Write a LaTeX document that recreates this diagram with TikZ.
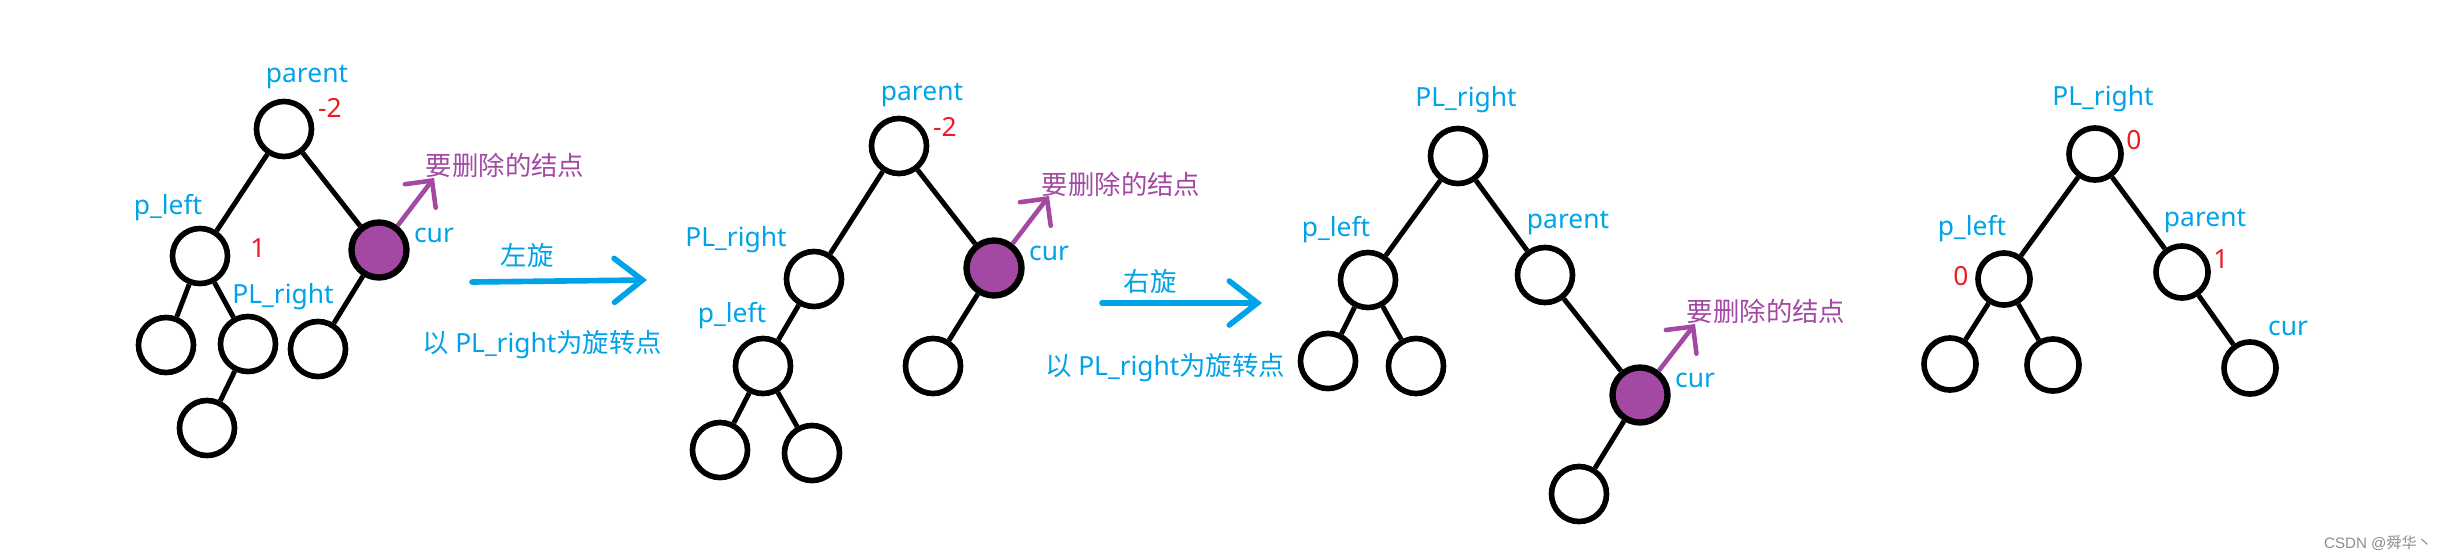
\documentclass[tikz,border=0pt]{standalone}
\usepackage{fontspec}
\setmainfont{Noto Sans}
\newfontfamily\cjk{Noto Sans CJK SC}
\newfontfamily\wmfont{Liberation Sans}
\usetikzlibrary{arrows.meta}
\definecolor{lblue}{RGB}{0,162,232}
\definecolor{pred}{RGB}{237,28,36}
\definecolor{ppurple}{RGB}{163,73,164}
\begin{document}
\begin{tikzpicture}[x=0.01cm,y=-0.01cm,
  tn/.style={circle, draw=black, line width=1.6pt, minimum size=0.55cm, inner sep=0pt},
  tns/.style={tn, minimum size=0.52cm},
  del/.style={tn, fill=ppurple, line width=1.8pt},
  edge/.style={draw=black, line width=1.4pt},
  lbl/.style={text=lblue, inner sep=0pt, font=\fontsize{7.5pt}{9pt}\selectfont},
  num/.style={text=pred, inner sep=0pt, font=\fontsize{7.5pt}{9pt}\selectfont},
  dlbl/.style={text=ppurple, inner sep=0pt, font=\fontsize{7.5pt}{9pt}\selectfont\cjk},
  parrow/.style={draw=ppurple, line width=1.3pt, -{Straight Barb[length=5.5pt,width=11pt,line cap=round]}},
  barrow/.style={draw=lblue, line width=1.6pt, line cap=round, -{Straight Barb[length=8pt,width=12.5pt,line cap=round]}}
]
\useasboundingbox (0,0) rectangle (2443,557);

% ---------- Tree 1 ----------
\node[tn]  (t1p)   at (284,129) {};
\node[tn]  (t1l)   at (200,256) {};
\node[del] (t1c)   at (379,250) {};
\node[tn]  (t1ll)  at (166,345) {};
\node[tn]  (t1lr)  at (248,344) {};
\node[tn]  (t1cl)  at (318,349) {};
\node[tn]  (t1lrl) at (207,428) {};
\draw[edge] (t1p) -- (t1l);
\draw[edge] (t1p) -- (t1c);
\draw[edge] (t1l) -- (t1ll);
\draw[edge] (t1l) -- (t1lr);
\draw[edge] (t1lr) -- (t1lrl);
\draw[edge] (t1c) -- (t1cl);
\node[lbl] (t1pt)  at (307,77)  {parent};
\node[num] (t1pn)  at (330,108) {-2};
\node[lbl] (t1lt)  at (168,208) {p\_left};
\node[num] (t1ln)  at (258,248) {1};
\node[lbl] (t1ct)  at (434,235) {cur};
\node[lbl] (t1rt)  at (283,297) {PL\_right};
\coordinate (t1tip) at (434,178);
\draw[parrow] (t1c) -- (t1tip);
\node[dlbl] (t1dt) at (505,165) {要删除的结点};

% ---------- Arrow 1 ----------
\coordinate (a1s) at (472,282);
\coordinate (a1e) at (647,280);
\draw[barrow] (a1s) -- (a1e);
\node[lbl] (a1t) at (527,255) {\cjk 左旋};
\node[lbl] (a1b) at (542,345) {{\cjk 以} PL\_right{\cjk 为旋转点}};

% ---------- Tree 2 ----------
\node[tn]  (t2p)   at (899,146) {};
\node[tn]  (t2r)   at (814,279) {};
\node[tn]  (t2l)   at (763,366) {};
\node[tn]  (t2ll)  at (720,450) {};
\node[tn]  (t2lr)  at (812,453) {};
\node[del] (t2c)   at (994,268) {};
\node[tn]  (t2cl)  at (933,366) {};
\draw[edge] (t2p) -- (t2r);
\draw[edge] (t2r) -- (t2l);
\draw[edge] (t2l) -- (t2ll);
\draw[edge] (t2l) -- (t2lr);
\draw[edge] (t2p) -- (t2c);
\draw[edge] (t2c) -- (t2cl);
\node[lbl] (t2pt) at (922,95)  {parent};
\node[num] (t2pn) at (945,127) {-2};
\node[lbl] (t2rt) at (736,240) {PL\_right};
\node[lbl] (t2lt) at (732,316) {p\_left};
\node[lbl] (t2ct) at (1049,253) {cur};
\coordinate (t2tip) at (1049,196);
\draw[parrow] (t2c) -- (t2tip);
\node[dlbl] (t2dt) at (1121,184) {要删除的结点};

% ---------- Arrow 2 ----------
\coordinate (a2s) at (1102,303);
\coordinate (a2e) at (1262,303);
\draw[barrow] (a2s) -- (a2e);
\node[lbl] (a2t) at (1150,281) {\cjk 右旋};
\node[lbl] (a2b) at (1165,368) {{\cjk 以} PL\_right{\cjk 为旋转点}};

% ---------- Tree 3 ----------
\node[tn]  (t3r)   at (1458,156) {};
\node[tn]  (t3l)   at (1368,280) {};
\node[tn]  (t3ll)  at (1328,361) {};
\node[tn]  (t3lr)  at (1416,366) {};
\node[tn]  (t3p)   at (1545,275) {};
\node[del] (t3c)   at (1640,395) {};
\node[tn]  (t3cl)  at (1579,494) {};
\draw[edge] (t3r) -- (t3l);
\draw[edge] (t3l) -- (t3ll);
\draw[edge] (t3l) -- (t3lr);
\draw[edge] (t3r) -- (t3p);
\draw[edge] (t3p) -- (t3c);
\draw[edge] (t3c) -- (t3cl);
\node[lbl] (t3rt) at (1466,100) {PL\_right};
\node[lbl] (t3lt) at (1336,230) {p\_left};
\node[lbl] (t3pt) at (1568,223) {parent};
\node[lbl] (t3ct) at (1695,380) {cur};
\coordinate (t3tip) at (1695,324);
\draw[parrow] (t3c) -- (t3tip);
\node[dlbl] (t3dt) at (1766,311) {要删除的结点};

% ---------- Tree 4 ----------
\node[tns] (t4r)  at (2095,154) {};
\node[tns] (t4l)  at (2004,279) {};
\node[tns] (t4ll) at (1950,364) {};
\node[tns] (t4lr) at (2053,365) {};
\node[tns] (t4p)  at (2182,272) {};
\node[tns] (t4c)  at (2250,368) {};
\draw[edge] (t4r) -- (t4l);
\draw[edge] (t4l) -- (t4ll);
\draw[edge] (t4l) -- (t4lr);
\draw[edge] (t4r) -- (t4p);
\draw[edge] (t4p) -- (t4c);
\node[lbl] (t4rt) at (2103,99)  {PL\_right};
\node[num] (t4rn) at (2134,140) {0};
\node[lbl] (t4lt) at (1972,229) {p\_left};
\node[num] (t4ln) at (1961,276) {0};
\node[lbl] (t4pt) at (2205,221) {parent};
\node[num] (t4pn) at (2221,259) {1};
\node[lbl] (t4ct) at (2288,328) {cur};

% ---------- watermark ----------
\node[text=black!45, inner sep=0pt, font=\fontsize{4.3pt}{5pt}\selectfont\wmfont] (wm) at (2378,543) {CSDN @{\cjk 舜华丶}};
\end{tikzpicture}
\end{document}
